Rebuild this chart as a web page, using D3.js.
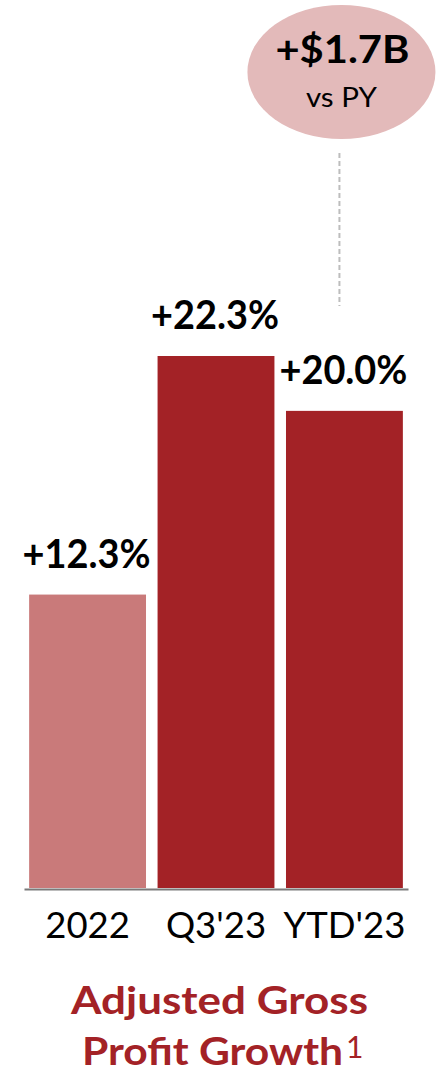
<!DOCTYPE html>
<html>
<head>
<meta charset="utf-8">
<script src="https://cdn.jsdelivr.net/npm/d3@7"></script>
<style>
  html, body { margin: 0; padding: 0; background: #fff; }
  svg { display: block; font-family: Lato, "Open Sans", sans-serif; }
</style>
</head>
<body>
<svg id="chart" width="436" height="1074"></svg>
<script>
// Adjusted gross profit growth, year over year (%)
const categories = ["2022", "Q3'23", "YTD'23"];
const growth = [12.3, 22.3, 20.0];
const valueLabels = ["+12.3%", "+22.3%", "+20.0%"];
const barColors = ["#c97a7a", "#a32226", "#a32226"];
const calloutLines = ["+$1.7B", "vs PY"];
const titleLines = ["Adjusted Gross", "Profit Growth"];
const footnote = "1";

const svg = d3.select("#chart");
const baseY = 888;

const x = d3.scaleBand()
  .domain(categories)
  .range([24, 408])
  .paddingInner(0.09)
  .paddingOuter(0.04);

const y = d3.scaleLinear()
  .domain([0, 22.3])
  .range([baseY, 356]);

const data = categories.map((c, i) => ({ cat: c, v: growth[i], label: valueLabels[i], color: barColors[i] }));

// Bars
svg.append("g").selectAll("rect")
  .data(data)
  .join("rect")
  .attr("x", d => x(d.cat))
  .attr("y", d => y(d.v))
  .attr("width", x.bandwidth())
  .attr("height", d => y(0) - y(d.v))
  .attr("fill", d => d.color);

// Baseline axis with category labels
const axis = svg.append("g")
  .attr("transform", `translate(0,${baseY + 1})`)
  .call(d3.axisBottom(x).tickSize(0).tickPadding(0));
axis.select(".domain").attr("stroke", "#7a7a7a").attr("stroke-width", 2);
axis.selectAll(".tick text")
  .attr("dy", null)
  .attr("y", 49)
  .attr("fill", "#000")
  .attr("font-family", "Lato, sans-serif")
  .attr("font-size", 36.5);

// Value labels above bars
svg.append("g").selectAll("text")
  .data(data)
  .join("text")
  .attr("x", d => x(d.cat) + x.bandwidth() / 2 - 1)
  .attr("y", d => y(d.v) - 27)
  .attr("text-anchor", "middle")
  .attr("font-weight", 700)
  .attr("font-size", 40)
  .attr("textLength", 128)
  .attr("lengthAdjust", "spacingAndGlyphs")
  .attr("fill", "#000")
  .text(d => d.label);

// Callout bubble and leader
const ytdCenter = x("YTD'23") + x.bandwidth() / 2;
const cx = ytdCenter - 3;
svg.append("line")
  .attr("x1", cx - 2).attr("x2", cx - 2)
  .attr("y1", 153).attr("y2", 306)
  .attr("stroke", "#bdbdbd")
  .attr("stroke-width", 2)
  .attr("stroke-dasharray", "5,3");

svg.append("ellipse")
  .attr("cx", cx).attr("cy", 72)
  .attr("rx", 94).attr("ry", 67)
  .attr("fill", "#e3baba");

svg.append("text")
  .attr("x", cx + 1).attr("y", 63)
  .attr("text-anchor", "middle")
  .attr("font-weight", 700)
  .attr("font-size", 38)
  .attr("textLength", 134)
  .attr("lengthAdjust", "spacingAndGlyphs")
  .attr("fill", "#000")
  .text(calloutLines[0]);

svg.append("text")
  .attr("x", cx).attr("y", 107)
  .attr("text-anchor", "middle")
  .attr("font-size", 26)
  .attr("textLength", 71)
  .attr("lengthAdjust", "spacingAndGlyphs")
  .attr("fill", "#000")
  .text(calloutLines[1]);

// Title
const title = svg.append("g").attr("fill", "#a32226");
title.append("text")
  .attr("x", 219.5).attr("y", 1014)
  .attr("text-anchor", "middle")
  .attr("font-weight", 700)
  .attr("font-size", 38)
  .attr("textLength", 297)
  .attr("lengthAdjust", "spacingAndGlyphs")
  .text(titleLines[0]);

title.append("text")
  .attr("x", 82).attr("y", 1065)
  .attr("font-weight", 700)
  .attr("font-size", 38)
  .attr("textLength", 261)
  .attr("lengthAdjust", "spacingAndGlyphs")
  .text(titleLines[1]);

title.append("text")
  .attr("x", 346).attr("y", 1058)
  .attr("font-size", 30)
  .text(footnote);
</script>
</body>
</html>
